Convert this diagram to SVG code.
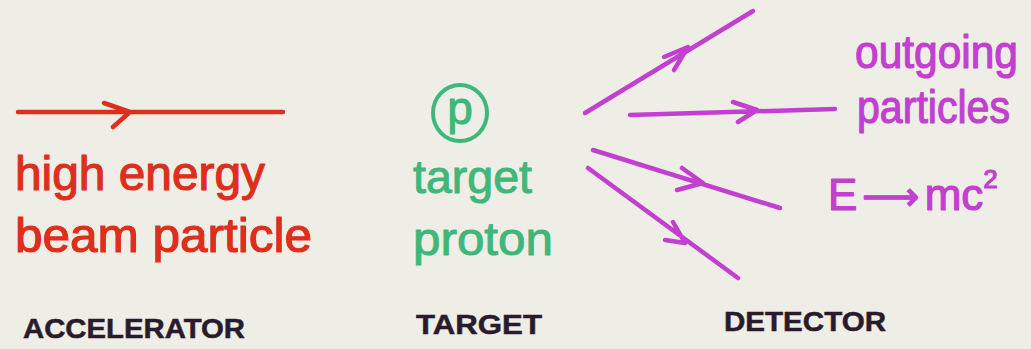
<svg xmlns="http://www.w3.org/2000/svg" width="1031" height="349" viewBox="0 0 1031 349">
  <defs>
    <style>
      .hand { font-family: "Liberation Sans", "DejaVu Sans", sans-serif; stroke-linejoin: round; }
      .red { fill: #de2f1c; stroke: #de2f1c; stroke-width: 1.2; }
      .green { fill: #3fb77a; stroke: #3fb77a; stroke-width: 1; }
      .mag { fill: #c23fcf; stroke: #c23fcf; stroke-width: 1.2; }
      .lab { fill: #2a1b2c; stroke: #2a1b2c; stroke-width: 0.5; font-family: "Liberation Sans", "DejaVu Sans", sans-serif; font-weight: bold; }
      .line { fill: none; stroke-linecap: round; stroke-linejoin: round; }
      .rl { stroke: #de2f1c; stroke-width: 4.5; }
      .ml { stroke: #c23fcf; stroke-width: 4.5; }
    </style>
  </defs>
  <rect width="1031" height="349" fill="#efeee6"/>

  <g id="connectors" class="line">
    <!-- beam -->
    <path class="rl" d="M18 112 L283 112 M104 103 L130 112 L113 127"/>
    <!-- outgoing particles -->
    <path class="ml" d="M585 113 L753 11 M664 57 L688 47 L674 70"/>
    <path class="ml" d="M630 115 L835 109 M733 102 L757 110 L738 122"/>
    <path class="ml" d="M593 150 L780 208 M682 168 L703 183 L677 190"/>
    <path class="ml" d="M588 168 L738 278 M673 222 L685 243 L665 240"/>
  </g>

  <g id="accelerator">
    <text class="hand red" x="15" y="190" font-size="48" textLength="250" lengthAdjust="spacingAndGlyphs">high energy</text>
    <text class="hand red" x="15" y="252" font-size="48" textLength="297" lengthAdjust="spacingAndGlyphs">beam particle</text>
    <text class="lab" x="23" y="338" font-size="27" textLength="222" lengthAdjust="spacingAndGlyphs">ACCELERATOR</text>
  </g>

  <g id="target">
    <ellipse cx="460" cy="113" rx="27" ry="28" fill="none" stroke="#3fb77a" stroke-width="4"/>
    <text class="hand green" x="460" y="124" font-size="46" text-anchor="middle">p</text>
    <text class="hand green" x="413" y="193" font-size="46" textLength="119" lengthAdjust="spacingAndGlyphs">target</text>
    <text class="hand green" x="413" y="255" font-size="46" textLength="140" lengthAdjust="spacingAndGlyphs">proton</text>
    <text class="lab" x="416" y="334" font-size="27" textLength="126" lengthAdjust="spacingAndGlyphs">TARGET</text>
  </g>

  <g id="detector">
    <text class="hand mag" x="855" y="68" font-size="46" textLength="163" lengthAdjust="spacingAndGlyphs">outgoing</text>
    <text class="hand mag" x="857" y="123" font-size="46" textLength="153" lengthAdjust="spacingAndGlyphs">particles</text>
    <text class="hand mag" x="828" y="210" font-size="44">E<tspan font-family="DejaVu Sans, sans-serif" font-size="40" dx="5">⟶</tspan><tspan dx="5">mc</tspan><tspan dy="-22" font-size="26">2</tspan></text>
    <text class="lab" x="724" y="331" font-size="27" textLength="162" lengthAdjust="spacingAndGlyphs">DETECTOR</text>
  </g>
</svg>
